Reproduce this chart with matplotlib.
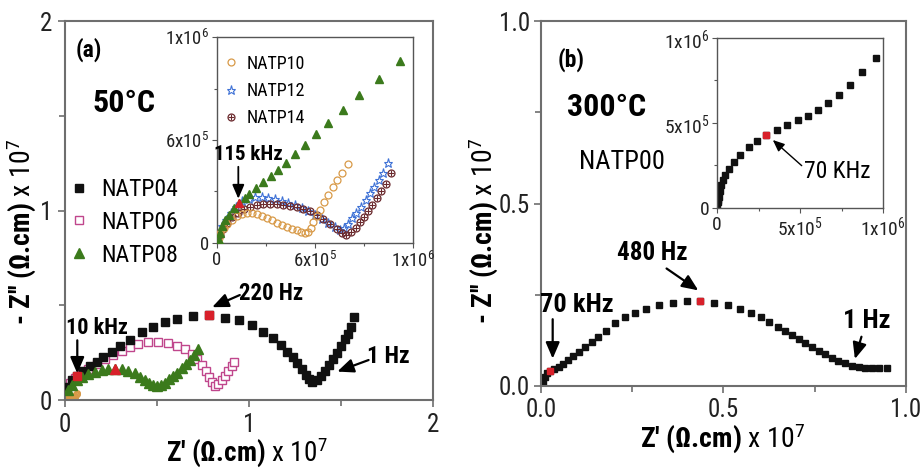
import numpy as np
import matplotlib
matplotlib.use("Agg")
import matplotlib.pyplot as plt
from matplotlib import font_manager

# the original uses a narrow Arial-like face; pick a condensed one if there is one
names = {f.name for f in font_manager.fontManager.ttflist}
FONT, SCALE = "Liberation Sans", 0.85
for cand in ["Liberation Sans Narrow", "Roboto Condensed"]:
	if cand in names:
		FONT, SCALE = cand, 1.0
		break
plt.rcParams["font.family"] = [FONT, "DejaVu Sans"]
plt.rcParams["mathtext.fontset"] = "custom"
plt.rcParams["mathtext.rm"] = FONT
plt.rcParams["mathtext.it"] = FONT
plt.rcParams["mathtext.bf"] = FONT + ":bold"


def fs(size):
	return size * SCALE


# ---- panel (a), 50 C, units of 1e7 ohm.cm ----
natp04_x = [0.009, 0.036, 0.064, 0.100, 0.136, 0.172, 0.208, 0.254, 0.299, 0.353, 0.417, 0.480,
            0.543, 0.610, 0.697, 0.784, 0.870, 0.947, 1.014, 1.074, 1.129, 1.172, 1.208, 1.237,
            1.263, 1.288, 1.310, 1.327, 1.345, 1.367, 1.389, 1.413, 1.436, 1.458, 1.480, 1.500,
            1.522, 1.540, 1.553, 1.571]
natp04_y = [0.070, 0.106, 0.127, 0.155, 0.179, 0.202, 0.225, 0.255, 0.285, 0.317, 0.357, 0.384,
            0.410, 0.425, 0.443, 0.449, 0.434, 0.420, 0.396, 0.357, 0.326, 0.290, 0.255, 0.225,
            0.193, 0.162, 0.132, 0.109, 0.097, 0.106, 0.127, 0.155, 0.185, 0.216, 0.249, 0.285,
            0.320, 0.351, 0.387, 0.436]
natp04_red = [2, 15]  # 10 kHz, 220 Hz

natp06_x = [0.027, 0.054, 0.091, 0.127, 0.172, 0.217, 0.263, 0.308, 0.353, 0.398, 0.453, 0.507,
            0.562, 0.610, 0.652, 0.689, 0.719, 0.746, 0.766, 0.783, 0.797, 0.815, 0.834, 0.852,
            0.870, 0.888, 0.906, 0.918]
natp06_y = [0.088, 0.114, 0.141, 0.162, 0.190, 0.215, 0.237, 0.260, 0.281, 0.296, 0.306, 0.306,
            0.299, 0.287, 0.267, 0.243, 0.215, 0.185, 0.155, 0.123, 0.097, 0.074, 0.084, 0.106,
            0.128, 0.155, 0.179, 0.202]

natp08_x = [0.018, 0.036, 0.064, 0.091, 0.127, 0.163, 0.199, 0.235, 0.272, 0.308, 0.344, 0.380,
            0.408, 0.435, 0.458, 0.480, 0.498, 0.520, 0.543, 0.567, 0.589, 0.610, 0.634, 0.658,
            0.679, 0.701, 0.725]
natp08_y = [0.053, 0.079, 0.106, 0.123, 0.137, 0.150, 0.158, 0.165, 0.165, 0.162, 0.155, 0.141,
            0.123, 0.106, 0.091, 0.079, 0.074, 0.077, 0.091, 0.109, 0.127, 0.144, 0.167, 0.190,
            0.211, 0.237, 0.270]
natp08_red = [8]

# ---- inset (a), units of 1e6 ohm.cm ----
in08_x = [0.008, 0.017, 0.025, 0.042, 0.059, 0.085, 0.114, 0.141, 0.166, 0.200, 0.237, 0.275,
          0.314, 0.353, 0.398, 0.449, 0.505, 0.568, 0.641, 0.725, 0.825, 0.936]
in08_y = [0.016, 0.048, 0.081, 0.113, 0.137, 0.169, 0.194, 0.216, 0.239, 0.266, 0.294, 0.323,
          0.352, 0.387, 0.432, 0.476, 0.529, 0.584, 0.648, 0.718, 0.798, 0.882]
in08_red = [6]  # 115 kHz

natp10_x = [0.008, 0.017, 0.034, 0.051, 0.076, 0.102, 0.127, 0.153, 0.178, 0.203, 0.229, 0.254,
            0.280, 0.305, 0.331, 0.356, 0.381, 0.407, 0.429, 0.449, 0.466, 0.478, 0.492, 0.508,
            0.525, 0.546, 0.568, 0.590, 0.614, 0.639, 0.669]
natp10_y = [0.024, 0.048, 0.073, 0.094, 0.113, 0.129, 0.140, 0.145, 0.145, 0.142, 0.132, 0.121,
            0.110, 0.097, 0.085, 0.076, 0.068, 0.061, 0.055, 0.050, 0.053, 0.073, 0.100, 0.129,
            0.161, 0.197, 0.234, 0.271, 0.306, 0.342, 0.382]

natp12_x = [0.008, 0.025, 0.047, 0.071, 0.098, 0.127, 0.161, 0.195, 0.229, 0.263, 0.297, 0.331,
            0.364, 0.398, 0.432, 0.466, 0.500, 0.534, 0.568, 0.602, 0.627, 0.647, 0.669, 0.690,
            0.712, 0.734, 0.758, 0.780, 0.802, 0.825, 0.847, 0.873]
natp12_y = [0.048, 0.081, 0.113, 0.145, 0.177, 0.202, 0.215, 0.221, 0.223, 0.218, 0.213, 0.205,
            0.194, 0.182, 0.169, 0.153, 0.137, 0.116, 0.097, 0.076, 0.065, 0.073, 0.094, 0.121,
            0.148, 0.177, 0.210, 0.242, 0.274, 0.306, 0.342, 0.387]

natp14_x = [0.014, 0.031, 0.051, 0.076, 0.105, 0.136, 0.169, 0.203, 0.237, 0.271, 0.305, 0.339,
            0.373, 0.407, 0.441, 0.475, 0.508, 0.542, 0.576, 0.610, 0.636, 0.661, 0.686, 0.708,
            0.729, 0.749, 0.771, 0.793, 0.817, 0.839, 0.861, 0.886]
natp14_y = [0.040, 0.068, 0.097, 0.126, 0.148, 0.165, 0.177, 0.184, 0.187, 0.189, 0.187, 0.185,
            0.181, 0.174, 0.165, 0.153, 0.137, 0.118, 0.094, 0.068, 0.048, 0.040, 0.052, 0.073,
            0.100, 0.126, 0.153, 0.185, 0.218, 0.250, 0.287, 0.342]

# ---- panel (b), 300 C, NATP00, units of 1e7 ohm.cm ----
natp00_x = [0.005, 0.011, 0.017, 0.025, 0.036, 0.048, 0.061, 0.075, 0.089, 0.104, 0.121, 0.139,
            0.157, 0.178, 0.203, 0.230, 0.258, 0.288, 0.322, 0.361, 0.399, 0.436, 0.474, 0.511,
            0.544, 0.575, 0.602, 0.626, 0.649, 0.669, 0.687, 0.706, 0.724, 0.742, 0.761, 0.779,
            0.797, 0.815, 0.834, 0.852, 0.870, 0.888, 0.907, 0.925, 0.948]
natp00_y = [0.012, 0.026, 0.035, 0.042, 0.047, 0.053, 0.060, 0.071, 0.082, 0.094, 0.108, 0.121,
            0.135, 0.151, 0.173, 0.188, 0.201, 0.212, 0.223, 0.228, 0.232, 0.232, 0.228, 0.222,
            0.212, 0.201, 0.190, 0.176, 0.162, 0.151, 0.140, 0.129, 0.117, 0.108, 0.097, 0.088,
            0.078, 0.069, 0.062, 0.055, 0.051, 0.050, 0.050, 0.050, 0.050]
natp00_red = [3, 21]  # 70 kHz, 480 Hz

# ---- inset (b), units of 1e6 ohm.cm ----
in00_x = [0.002, 0.004, 0.006, 0.010, 0.016, 0.024, 0.036, 0.050, 0.074, 0.104, 0.141, 0.191,
          0.241, 0.297, 0.361, 0.422, 0.486, 0.546, 0.606, 0.669, 0.737, 0.803, 0.876, 0.960]
in00_y = [0.008, 0.033, 0.048, 0.063, 0.099, 0.133, 0.163, 0.192, 0.232, 0.272, 0.312, 0.357,
          0.397, 0.431, 0.460, 0.488, 0.516, 0.544, 0.575, 0.619, 0.667, 0.726, 0.798, 0.881]
in00_red = [13]  # 70 KHz

BLACK = "#111111"
RED = "#d8202a"
PINK = "#c0468c"
GREEN = "#3b7a1c"
ORANGE = "#d89a48"
BLUE = "#3f72d6"
BROWN = "#6b2a2e"
SPINE = "#6e6e6e"


def style_axes(ax, spine_col, lw):
	for s in ax.spines.values():
		s.set_color(spine_col)
		s.set_linewidth(lw)
	ax.tick_params(which="both", direction="out", color=spine_col, width=lw * 0.8)


def mark_red(ax, xs, ys, idx, marker, size):
	xs = np.asarray(xs)
	ys = np.asarray(ys)
	ax.plot(xs[idx], ys[idx], marker, color=RED, ms=size, mec=RED, ls="none", zorder=5)


def arrow(ax, text_xy, tip_xy, lw=1.6, head=7):
	ax.annotate("", xy=tip_xy, xytext=text_xy,
	            arrowprops=dict(arrowstyle="-|>,head_length=0.7,head_width=0.3",
	                            color="black", lw=lw, shrinkA=0, shrinkB=0, mutation_scale=head * 2))


fig = plt.figure(figsize=(9.24, 4.69), dpi=100)

# ================= panel (a) =================
ax_a = fig.add_axes([0.0703, 0.1471, 0.3983, 0.808])
ax_a.plot(np.array(natp10_x) / 10, np.array(natp10_y) / 10, "o", ms=4, mfc="none", mec=ORANGE, mew=1.0, zorder=1)
ax_a.plot(natp08_x, natp08_y, "^", ms=7, color=GREEN, ls="none", label="NATP08", zorder=4)
ax_a.plot(natp06_x, natp06_y, "s", ms=6, mfc="white", mec=PINK, mew=1.0, ls="none", label="NATP06", zorder=2)
ax_a.plot(natp04_x, natp04_y, "s", ms=5.5, color=BLACK, ls="none", label="NATP04", zorder=3)
mark_red(ax_a, natp04_x, natp04_y, natp04_red, "s", 5.5)
mark_red(ax_a, natp08_x, natp08_y, natp08_red, "^", 7)

ax_a.set_xlim(0, 2)
ax_a.set_ylim(0, 2)
ax_a.set_xticks([0, 1, 2])
ax_a.set_yticks([0, 1, 2])
ax_a.set_xticks([0.5, 1.5], minor=True)
ax_a.set_yticks([0.5, 1.5], minor=True)
style_axes(ax_a, SPINE, 1.5)
ax_a.tick_params(which="major", length=5, labelsize=fs(18), labelcolor="#222222")
ax_a.tick_params(which="minor", length=4)
ax_a.tick_params(axis="x", pad=4)
ax_a.tick_params(axis="y", pad=4)

h, l = ax_a.get_legend_handles_labels()
ax_a.legend(h[::-1], l[::-1], loc="upper left", bbox_to_anchor=(-0.033, 0.63), frameon=False,
            fontsize=fs(17), handletextpad=0.55, labelspacing=0.42, handlelength=0.8, borderpad=0.2)

ax_a.text(0.03, 0.925, "(a)", transform=ax_a.transAxes, fontsize=fs(17), fontweight="bold", va="center")
ax_a.text(0.075, 0.785, "50°C", transform=ax_a.transAxes, fontsize=fs(23), fontweight="bold", va="center")

ax_a.text(0.175, 0.38, "10 kHz", fontsize=fs(16), fontweight="bold", ha="center", va="center")
arrow(ax_a, (0.067, 0.315), (0.067, 0.14))
ax_a.text(1.12, 0.56, "220 Hz", fontsize=fs(16.5), fontweight="bold", ha="center", va="center")
arrow(ax_a, (0.95, 0.554), (0.80, 0.49))
ax_a.text(1.76, 0.23, "1 Hz", fontsize=fs(17), fontweight="bold", ha="center", va="center")
arrow(ax_a, (1.65, 0.211), (1.48, 0.15))

ax_a.text(0.495, -0.138, "Z' (Ω.cm) $\\mathrm{x\\ 10^7}$", transform=ax_a.transAxes,
          fontsize=fs(19.5), fontweight="bold", ha="center", va="center")
ax_a.text(-0.118, 0.443, "- Z'' (Ω.cm) $\\mathrm{x\\ 10^7}$", transform=ax_a.transAxes,
          fontsize=fs(20), fontweight="bold", ha="center", va="center", rotation=90)

# ---- inset (a) ----
ins_a = fig.add_axes([0.2348, 0.4819, 0.2121, 0.4392])
ins_a.plot(in08_x, in08_y, "^", ms=5.5, color=GREEN, ls="none", zorder=4)
ins_a.plot(natp10_x, natp10_y, "o", ms=5, mfc="none", mec=ORANGE, mew=0.9, ls="none", zorder=3)
ins_a.plot(natp12_x, natp12_y, "*", ms=6.5, mfc="none", mec=BLUE, mew=0.8, ls="none", zorder=2)
ins_a.plot(natp14_x, natp14_y, "o", ms=5, mfc="none", mec=BROWN, mew=0.9, ls="none", zorder=2)
ins_a.plot(natp14_x, natp14_y, "+", ms=5, mec=BROWN, mew=0.8, ls="none", zorder=2)
mark_red(ins_a, in08_x, in08_y, in08_red, "^", 5.5)
h14 = (ins_a.lines[3], ins_a.lines[4])
ins_a.legend([ins_a.lines[1], ins_a.lines[2], h14], ["NATP10", "NATP12", "NATP14"], loc="upper left",
             bbox_to_anchor=(-0.04, 0.975), frameon=False, fontsize=fs(13), handletextpad=0.35,
             labelspacing=0.5, handlelength=1.0, borderpad=0.2)

ins_a.set_xlim(0, 1)
ins_a.set_ylim(0, 1)
ins_a.set_xticks([0, 0.5, 1])
ins_a.set_xticklabels(["0", "6x10$^5$", "1x10$^6$"])
ins_a.set_yticks([0, 0.5, 1])
ins_a.set_yticklabels(["0", "6x10$^5$", "1x10$^6$"])
ins_a.set_xticks([0.25, 0.75], minor=True)
ins_a.set_yticks([0.25, 0.75], minor=True)
style_axes(ins_a, "#555555", 1.0)
ins_a.tick_params(which="major", length=3.5, labelsize=fs(13.5), pad=2, labelcolor="#222222")
ins_a.tick_params(which="minor", length=2.5)

ins_a.text(0.158, 0.43, "115 kHz", fontsize=fs(15), fontweight="bold", ha="center", va="center")
arrow(ins_a, (0.109, 0.37), (0.109, 0.215), lw=1.3, head=6)

# ================= panel (b) =================
ax_b = fig.add_axes([0.5855, 0.177, 0.395, 0.778])
ax_b.plot(natp00_x, natp00_y, "s", ms=5, color=BLACK, ls="none")
mark_red(ax_b, natp00_x, natp00_y, natp00_red, "s", 5)
ax_b.set_xlim(0, 1)
ax_b.set_ylim(0, 1)
ax_b.set_xticks([0, 0.5, 1])
ax_b.set_xticklabels(["0.0", "0.5", "1.0"])
ax_b.set_yticks([0, 0.5, 1])
ax_b.set_yticklabels(["0.0", "0.5", "1.0"])
ax_b.set_xticks([0.25, 0.75], minor=True)
ax_b.set_yticks([0.25, 0.75], minor=True)
style_axes(ax_b, SPINE, 1.5)
ax_b.tick_params(which="major", length=5, labelsize=fs(18), labelcolor="#222222")
ax_b.tick_params(which="minor", length=4)
ax_b.tick_params(axis="x", pad=4)
ax_b.tick_params(axis="y", pad=3)

ax_b.text(0.045, 0.895, "(b)", transform=ax_b.transAxes, fontsize=fs(17), fontweight="bold", va="center")
ax_b.text(0.07, 0.765, "300°C", transform=ax_b.transAxes, fontsize=fs(23), fontweight="bold", va="center")
ax_b.text(0.105, 0.615, "NATP00", transform=ax_b.transAxes, fontsize=fs(19), va="center")

ax_b.text(0.099, 0.222, "70 kHz", fontsize=fs(19), fontweight="bold", ha="center", va="center")
arrow(ax_b, (0.032, 0.183), (0.032, 0.075))
ax_b.text(0.304, 0.364, "480 Hz", fontsize=fs(18), fontweight="bold", ha="center", va="center")
arrow(ax_b, (0.344, 0.322), (0.431, 0.262))
ax_b.text(0.893, 0.178, "1 Hz", fontsize=fs(19), fontweight="bold", ha="center", va="center")
arrow(ax_b, (0.878, 0.135), (0.860, 0.074))

ax_b.text(0.499, -0.142, "Z' (Ω.cm) $\\mathrm{x\\ 10^7}$", transform=ax_b.transAxes,
          fontsize=fs(20), fontweight="bold", ha="center", va="center")
ax_b.text(-0.158, 0.425, "- Z'' (Ω.cm) $\\mathrm{x\\ 10^7}$", transform=ax_b.transAxes,
          fontsize=fs(20), fontweight="bold", ha="center", va="center", rotation=90)

# ---- inset (b) ----
ins_b = fig.add_axes([0.776, 0.5565, 0.1797, 0.3625])
ins_b.plot(in00_x, in00_y, "s", ms=4, color=BLACK, ls="none")
mark_red(ins_b, in00_x, in00_y, in00_red, "s", 4)
ins_b.set_xlim(0, 1)
ins_b.set_ylim(0, 1)
ins_b.set_xticks([0, 0.5, 1])
ins_b.set_xticklabels(["0", "5x10$^5$", "1x10$^6$"])
ins_b.set_yticks([0, 0.5, 1])
ins_b.set_yticklabels(["0", "5x10$^5$", "1x10$^6$"])
ins_b.set_xticks([0.25, 0.75], minor=True)
ins_b.set_yticks([0.25, 0.75], minor=True)
style_axes(ins_b, "#555555", 1.0)
ins_b.tick_params(which="major", length=3.5, labelsize=fs(14), pad=2, labelcolor="#222222")
ins_b.tick_params(which="minor", length=2.5)

ins_b.text(0.723, 0.212, "70 KHz", fontsize=fs(17), ha="center", va="center")
arrow(ins_b, (0.51, 0.249), (0.336, 0.40), lw=1.0, head=5)

fig.savefig("out.png", dpi=100)
